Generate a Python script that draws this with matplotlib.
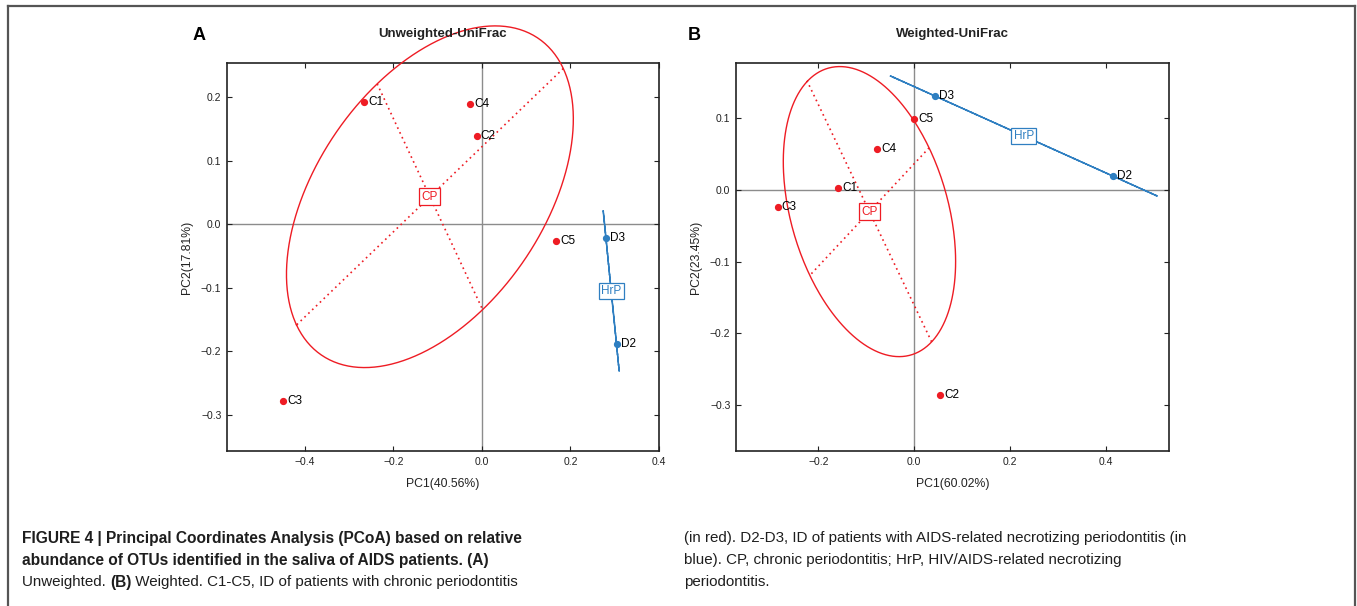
import numpy as np
import matplotlib
matplotlib.use("Agg")
import matplotlib.pyplot as plt
from matplotlib.lines import Line2D

plt.rcParams['font.family'] = ['Liberation Sans', 'DejaVu Sans']

# --- data ---
c_labels = ["C1", "C2", "C3", "C4", "C5"]
d_labels = ["D2", "D3"]

# Unweighted UniFrac
unw_c_x = [-0.267, -0.012, -0.450, -0.026, 0.167]
unw_c_y = [0.193, 0.139, -0.278, 0.189, -0.026]
unw_d_x = [0.304, 0.280]
unw_d_y = [-0.189, -0.021]

# Weighted UniFrac
w_c_x = [-0.159, 0.0545, -0.285, -0.078, 0.0]
w_c_y = [0.003, -0.286, -0.024, 0.057, 0.099]
w_d_x = [0.414, 0.0432]
w_d_y = [0.0195, 0.131]

RED = '#ee1c24'
BLUE = '#2f7fc1'
CELLIPSE = 1.5  # ade4 s.class style


def class_ellipse(ax, xs, ys, color, name):
    # centre = mean, axes from population covariance (like ade4 s.class)
    pts = np.column_stack([xs, ys])
    m = pts.mean(axis=0)
    cov = np.cov(pts.T, bias=True)
    vals, vecs = np.linalg.eigh(cov)
    vals = np.clip(vals, 0, None)
    big = vecs[:, 1] * np.sqrt(vals[1]) * CELLIPSE
    small = vecs[:, 0] * np.sqrt(vals[0]) * CELLIPSE
    t = np.linspace(0, 2 * np.pi, 300)
    ex = m[0] + big[0] * np.cos(t) + small[0] * np.sin(t)
    ey = m[1] + big[1] * np.cos(t) + small[1] * np.sin(t)
    ax.plot(ex, ey, color=color, lw=1.0, clip_on=False, zorder=3)
    for v in (big, small):
        if np.hypot(*v) > 1e-9:
            ax.plot([m[0] - v[0], m[0] + v[0]], [m[1] - v[1], m[1] + v[1]],
                    color=color, lw=1.2, ls=(0, (1, 2.2)), clip_on=False, zorder=3)
    ax.text(m[0], m[1], name, color=color, fontsize=8.5, ha='center', va='center',
            zorder=6, bbox=dict(boxstyle='square,pad=0.2', fc='white', ec=color, lw=0.9))


def panel(ax, cx, cy, dx, dy, xlim, ylim, xticks, yticks, xlabel, ylabel):
    ax.axhline(0, color='#8c8c8c', lw=1.0, zorder=1)
    ax.axvline(0, color='#8c8c8c', lw=1.0, zorder=1)
    class_ellipse(ax, cx, cy, RED, "CP")
    class_ellipse(ax, dx, dy, BLUE, "HrP")
    ax.plot(cx, cy, 'o', color=RED, ms=4.2, ls='none', zorder=5, clip_on=False)
    ax.plot(dx, dy, 'o', color=BLUE, ms=4.2, ls='none', zorder=5, clip_on=False)
    for x, y, s in zip(cx, cy, c_labels):
        ax.annotate(s, (x, y), xytext=(3, 0), textcoords='offset points',
                    fontsize=8.5, va='center', ha='left', zorder=6)
    for x, y, s in zip(dx, dy, d_labels):
        ax.annotate(s, (x, y), xytext=(3, 0), textcoords='offset points',
                    fontsize=8.5, va='center', ha='left', zorder=6)
    ax.set_xlim(xlim)
    ax.set_ylim(ylim)
    ax.set_xticks(xticks)
    ax.set_yticks(yticks)
    ax.set_xticklabels([f"{v:.1f}".replace('-', '\u2212') for v in xticks])
    ax.set_yticklabels([f"{v:.1f}".replace('-', '\u2212') for v in yticks])
    ax.tick_params(direction='in', length=3.5, width=0.8, top=True, right=True,
                   labelsize=7.5, pad=4, colors='#222222')
    for sp in ax.spines.values():
        sp.set_linewidth(1.2)
        sp.set_color('#222222')
    ax.set_xlabel(xlabel, fontsize=8.8, labelpad=8, color='#222222')
    ax.set_ylabel(ylabel, fontsize=8.8, labelpad=6, color='#222222')


fig = plt.figure(figsize=(13.57, 6.06), dpi=100)
W, H = 1357, 606


def fx(px):
    return px / W


def fy(py):
    return 1 - py / H


ax1 = fig.add_axes([fx(227), fy(451), fx(659) - fx(227), fy(63) - fy(451)])
ax2 = fig.add_axes([fx(736), fy(451), fx(1168.7) - fx(736), fy(63) - fy(451)])

panel(ax1, unw_c_x, unw_c_y, unw_d_x, unw_d_y, (-0.576, 0.4), (-0.357, 0.254),
      [-0.4, -0.2, 0.0, 0.2, 0.4], [-0.3, -0.2, -0.1, 0.0, 0.1, 0.2],
      "PC1(40.56%)", "PC2(17.81%)")
panel(ax2, w_c_x, w_c_y, w_d_x, w_d_y, (-0.372, 0.531), (-0.364, 0.177),
      [-0.2, 0.0, 0.2, 0.4], [-0.3, -0.2, -0.1, 0.0, 0.1],
      "PC1(60.02%)", "PC2(23.45%)")

fig.text(fx(443), fy(34), "Unweighted-UniFrac", fontsize=9.5, fontweight='bold',
         ha='center', va='center', color='#222222')
fig.text(fx(952), fy(34), "Weighted-UniFrac", fontsize=9.5, fontweight='bold',
         ha='center', va='center', color='#222222')
fig.text(fx(193), fy(35), "A", fontsize=13, fontweight='bold', ha='left', va='center')
fig.text(fx(688), fy(35), "B", fontsize=13, fontweight='bold', ha='left', va='center')

# border of the figure box
for xs, ys in [([7.5, 7.5], [606, 6]), ([7.5, 1355], [6, 6]), ([1355, 1355], [6, 606])]:
    fig.add_artist(Line2D([fx(v) for v in xs], [fy(v) for v in ys],
                          color='#555555', lw=1.6, transform=fig.transFigure))

# caption, pieces of mixed weight on each line
cap_font = ['Liberation Sans', 'DejaVu Sans']
cap_size = {'normal': 10.9, 'bold': 11.2}
left_lines = [
    [("FIGURE 4 | Principal Coordinates Analysis (PCoA) based on relative", 'bold')],
    [("abundance of OTUs identified in the saliva of AIDS patients. (A)", 'bold')],
    [("Unweighted. ", 'normal'), ("(B)", 'bold'),
     (" Weighted. C1-C5, ID of patients with chronic periodontitis", 'normal')],
]
right_lines = [
    [("(in red). D2-D3, ID of patients with AIDS-related necrotizing periodontitis (in", 'normal')],
    [("blue). CP, chronic periodontitis; HrP, HIV/AIDS-related necrotizing", 'normal')],
    [("periodontitis.", 'normal')],
]
line_y = [538, 560, 582]

renderer = fig.canvas.get_renderer()


def write_lines(x0, lines):
    for yy, pieces in zip(line_y, lines):
        x = x0
        for s, wt in pieces:
            t = fig.text(fx(x), fy(yy), s, fontsize=cap_size[wt], fontweight=wt,
                         family=cap_font, ha='left', va='center', color='#1e1e1e')
            bb = t.get_window_extent(renderer=renderer)
            x += bb.width


write_lines(22, left_lines)
write_lines(684, right_lines)

fig.savefig("out.png", dpi=100)
